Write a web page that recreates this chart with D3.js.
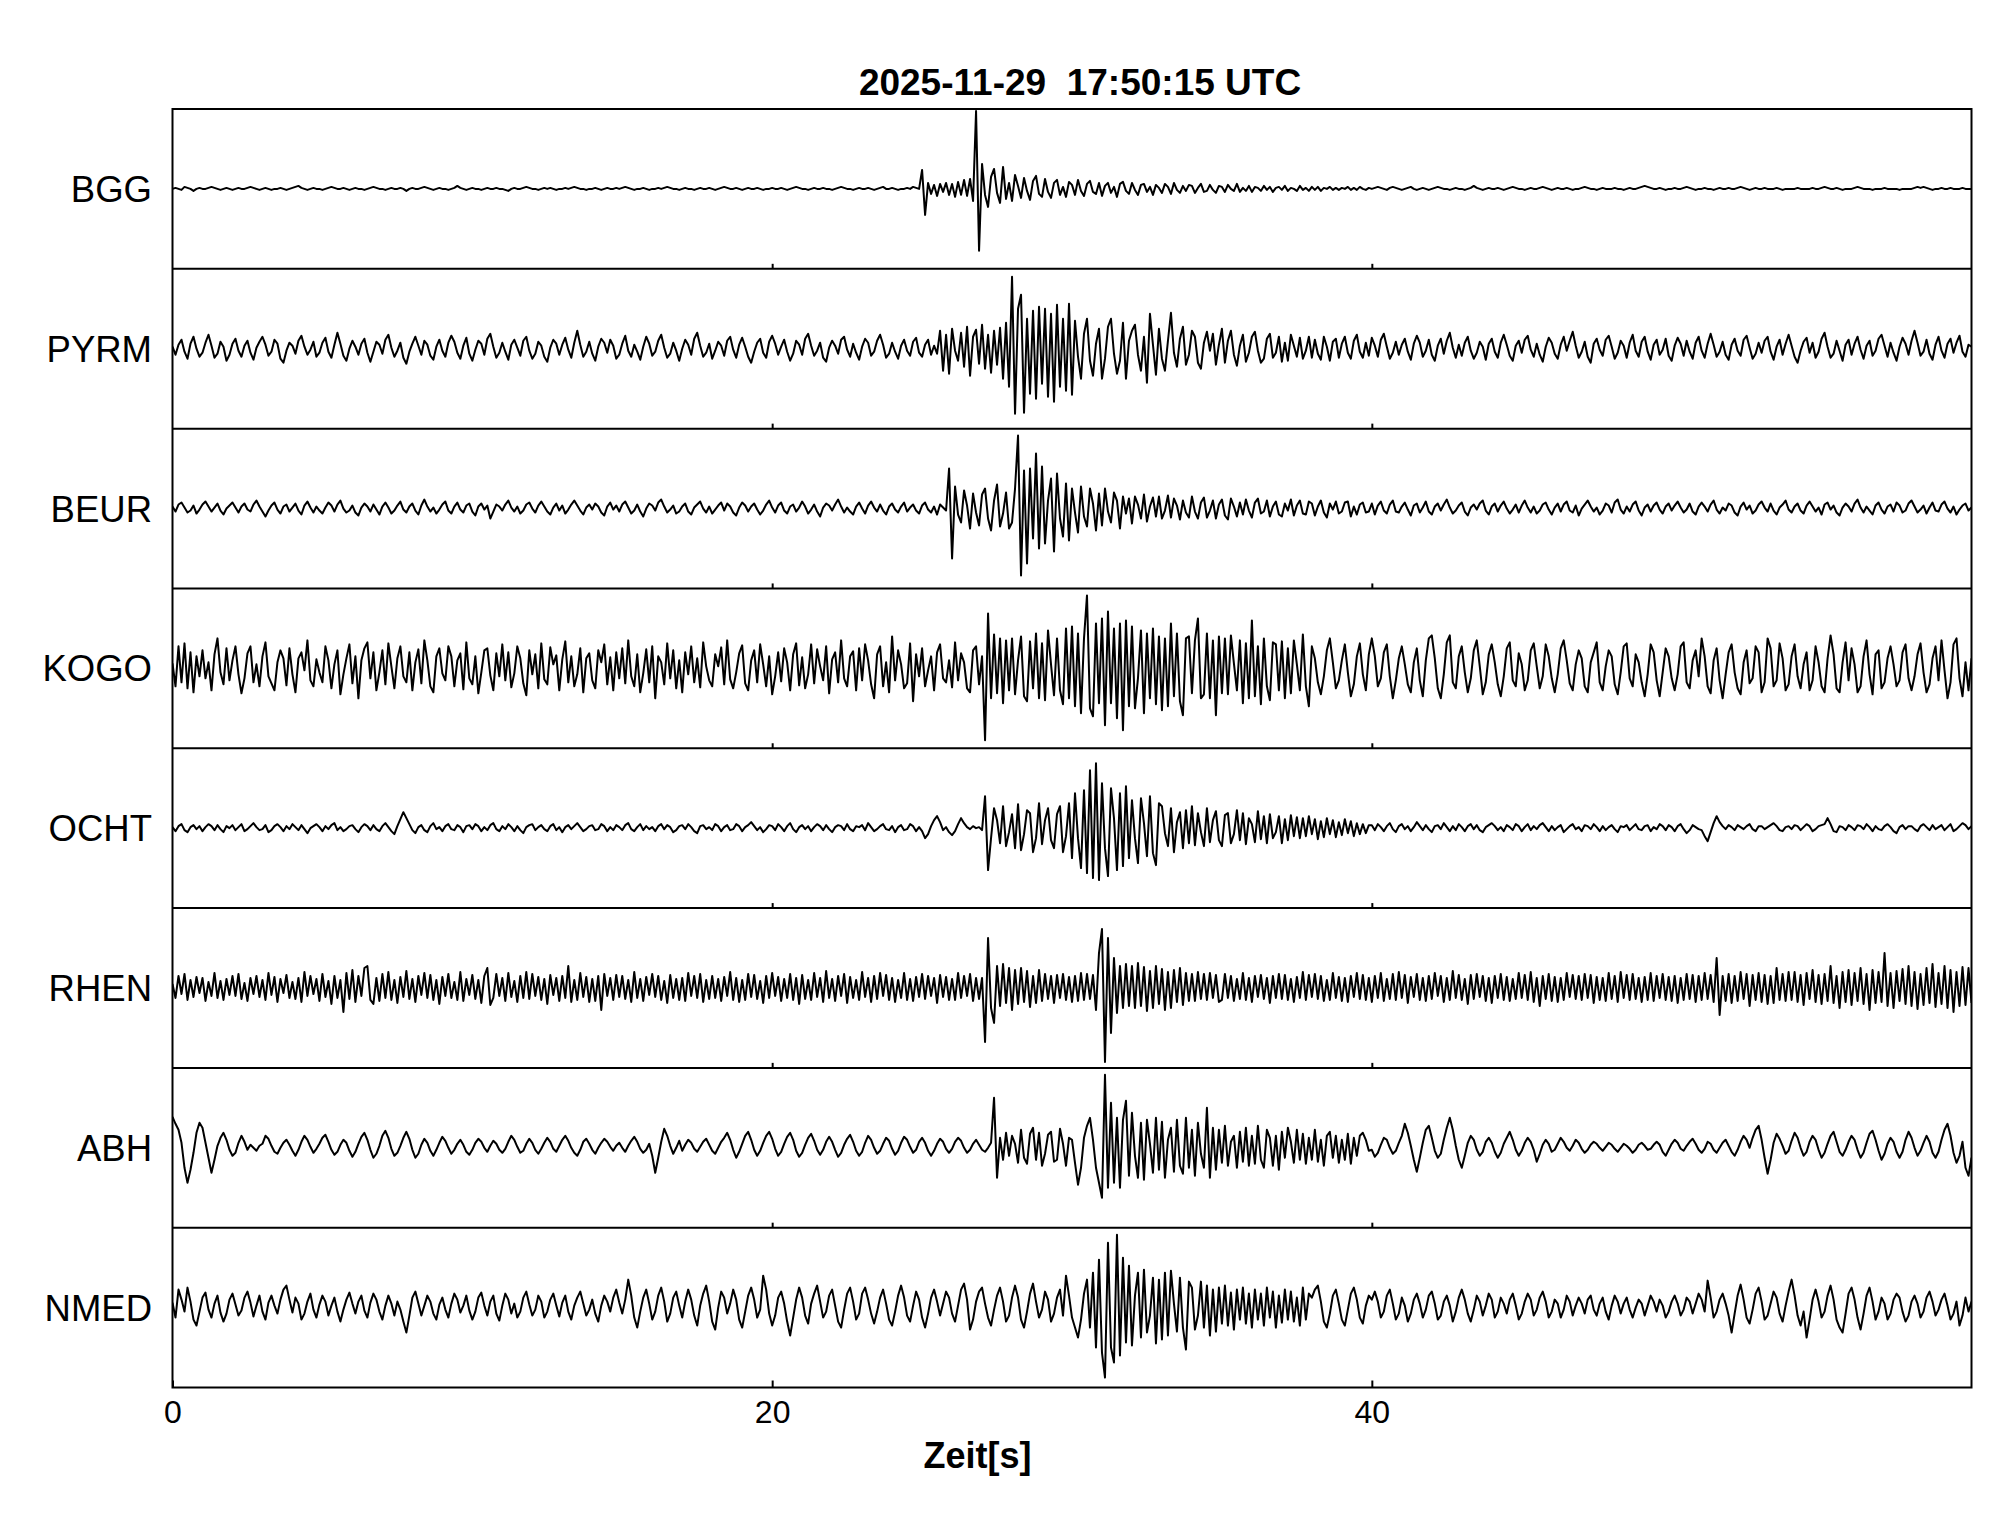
<!DOCTYPE html>
<html><head><meta charset="utf-8">
<script src="https://cdn.jsdelivr.net/npm/d3@7"></script>
<style>html,body{margin:0;padding:0;background:#fff;} svg{display:block;}</style>
</head><body>
<svg id="chart" width="2005" height="1522"></svg>
<script>
const chartTitle = "2025-11-29  17:50:15 UTC";
const xLabel = "Zeit[s]";
const stations = ["BGG","PYRM","BEUR","KOGO","OCHT","RHEN","ABH","NMED"];
const xTicks = [0,20,40];
const dt = 0.1; // seconds between samples, each row below = 1 s

const BGG = [
0,1,0,-1,2,1,0,-2,0,1,
0,0,1,2,1,0,-1,0,1,0,
-1,0,1,0,0,1,2,1,0,-1,
0,1,0,-1,0,0,1,0,-1,0,
1,2,3,1,0,-1,0,1,0,0,
-1,0,1,2,1,0,0,1,0,-1,
0,1,0,0,-1,0,1,2,1,0,
0,-1,0,1,0,0,1,0,-2,0,
1,0,0,1,2,1,0,-1,0,1,
0,0,-1,0,1,3,1,0,-1,0,
1,0,0,-1,0,1,0,0,1,0,
0,-1,-2,0,1,0,0,1,2,1,
0,0,-1,0,1,0,1,0,-1,0,
0,1,0,1,2,1,0,0,-1,0,
0,1,0,-1,0,1,0,0,1,0,
1,2,1,0,-1,0,0,1,0,-1,
0,0,1,0,1,2,1,0,0,-1,
0,1,0,0,-1,0,1,0,0,1,
0,-1,0,1,2,1,0,0,1,0,
-1,0,1,0,0,1,0,-1,0,0,
1,0,0,1,0,-1,0,1,2,1,
0,0,-1,0,1,0,0,1,0,0,
-1,0,1,2,1,0,0,-1,0,1,
0,0,1,0,-1,0,1,2,0,0,
1,0,-1,0,0,1,0,2,1,0,
19,-26,6,-5,4,-7,5,-3,6,-6,
5,-8,7,-6,9,-7,10,-12,78,-62,
25,-6,-18,12,20,-4,-14,22,-10,6,
-12,14,3,-9,11,-2,-11,8,13,-5,
-8,10,-3,-9,6,9,-6,2,-8,7,
4,-6,9,-2,-7,5,8,-3,-5,6,
-7,3,6,-4,2,-8,5,7,-2,-5,
6,-1,-6,4,5,-3,2,-6,4,1,
-4,5,2,-5,6,-1,-4,3,-2,4,
3,-4,1,5,-3,-2,4,-1,-4,3,
2,-3,4,0,-2,5,-3,1,-2,3,
-3,2,1,-2,3,-1,2,-3,1,2,
-1,3,-2,1,0,-2,3,-1,1,-2,
2,-1,2,-2,1,0,2,-1,1,-1,
1,0,2,-1,1,-1,2,0,-1,1,
0,1,2,1,0,-1,1,2,1,0,
-1,0,1,2,0,-1,0,1,0,-1,
0,1,2,1,0,0,-1,0,1,0,
0,-1,0,1,3,1,0,-1,0,1,
0,0,1,0,-1,0,1,2,1,0,
0,-1,0,1,0,0,1,2,1,0,
-1,0,1,0,0,1,0,-1,0,0,
1,2,1,0,0,-1,0,1,0,0,
0,1,0,0,-1,0,1,0,0,1,
2,3,2,1,0,0,1,0,-1,0,
0,1,0,0,1,2,1,0,-1,0,
0,1,0,0,-1,0,1,0,0,1,
0,0,1,2,1,0,-1,0,1,0,
0,1,0,0,0,1,0,-1,0,0,
0,0,1,0,0,0,0,1,0,0,
1,2,1,0,0,1,0,-1,0,0,
0,1,2,1,0,0,0,-1,0,0,
0,1,0,0,0,0,-1,0,0,0,
0,1,2,1,2,1,0,-1,0,0,
1,0,0,1,0,0,0,1,0,0,
0];

const PYRM = [
2,-6,4,9,-3,-10,5,12,0,-8,
-4,6,14,3,-9,-5,7,2,-12,-6,
5,10,-2,-8,3,8,-4,-11,1,7,
12,4,-7,-3,9,5,-10,-14,-2,6,
3,-5,8,13,2,-6,-1,7,-8,-4,
6,11,-3,-9,4,16,5,-7,-12,0,
8,2,-6,5,10,-4,-13,-3,7,4,
-5,9,14,1,-8,-2,6,-9,-15,-3,
5,12,3,-6,8,4,-7,-11,2,9,
-2,-8,6,13,7,-4,-10,3,11,-5,
-12,-1,8,5,-6,10,15,2,-9,-4,
6,-3,-11,4,9,1,-7,8,12,-2,
-10,-5,7,3,-8,-13,1,9,5,-6,
4,11,-1,-9,6,18,4,-8,-3,7,
-5,-12,2,10,6,-4,9,3,-10,-6,
5,13,-2,-8,4,-3,-11,2,12,5,
-7,-3,8,14,1,-9,-5,6,-2,-12,
0,9,4,-6,10,16,3,-8,-4,5,
-10,-2,7,3,-7,8,12,-1,-9,4,
11,2,-8,-14,-3,6,10,-4,-9,7,
13,5,-6,2,9,-3,-12,-5,8,4,
-6,10,15,3,-7,-2,6,-9,-13,1,
8,3,-5,9,12,-1,-8,5,-4,-11,
2,10,6,-7,-3,8,14,4,-9,-5,
6,-3,-10,3,9,-2,-7,7,11,-4,
-8,4,9,-6,3,-5,18,-22,14,-25,
20,-2,-12,16,-18,22,-27,12,19,-15,
24,-20,14,-24,18,-16,21,-30,26,-38,
72,-65,40,54,-64,30,-45,38,-50,42,
-35,40,-48,35,-53,44,-38,30,-42,45,
-46,28,-8,-30,15,30,-12,-27,5,20,
-30,-10,22,30,-5,-25,-12,26,-30,8,
18,24,-6,-22,12,-34,35,4,-26,20,
-10,-22,8,36,-4,-18,10,22,-16,-6,
18,12,-14,-20,6,17,-2,15,-16,4,
20,-14,8,18,-6,-17,3,14,-13,-4,
12,17,-2,-14,-10,10,15,-9,-4,12,
-13,6,-12,14,3,-8,11,-10,-2,12,
-9,9,-5,-11,12,2,-12,7,10,-9,
5,12,-4,-10,8,14,-3,-9,6,-7,
11,3,-8,9,15,2,-10,-4,7,-6,
4,10,-3,-11,5,13,6,-8,-2,9,
-6,-12,3,10,-5,8,16,1,-9,4,
-7,6,12,-2,-10,-4,7,2,-11,5,
10,-3,-9,6,14,4,-7,-12,3,8,
-4,9,13,-1,-8,5,-6,-13,2,11,
6,-5,-10,4,12,-2,8,17,3,-9,
-3,7,-8,-14,5,10,-1,-7,9,13,
2,-10,-4,8,3,-9,6,14,-2,-8,
7,12,-3,-11,4,9,-6,-1,10,-7,
-12,3,11,5,-7,8,-3,-10,6,12,
-2,-9,5,15,4,-8,-3,7,-6,-11,
4,10,-2,-7,9,13,1,-10,-5,6,
-4,8,12,-3,-11,2,9,-6,5,14,
3,-8,-14,-2,7,11,-4,6,-9,-3,
10,16,2,-9,-5,8,-2,-12,4,9,
-6,5,12,-1,-10,3,8,-7,-2,10,
14,3,-8,6,-4,-12,2,11,5,-6,
8,18,6,-7,-3,9,-5,-11,4,12,
-2,-9,5,10,-4,6,13,-3,-8,4,
2];

const BEUR = [
2,-3,4,6,1,-4,-2,3,-5,-1,
4,7,2,-3,1,5,-2,-6,0,3,
6,1,-4,2,5,-1,-3,4,8,2,
-3,-8,-2,3,6,-1,-5,2,4,-3,
1,5,-2,-6,3,7,1,-4,2,-2,
-5,1,6,3,-3,4,8,0,-4,-2,
3,-4,-7,1,5,2,-3,4,-1,-6,
2,6,1,-5,-2,3,7,-1,-4,2,
5,-2,-6,3,9,2,-3,1,-5,-1,
4,7,-2,-5,2,6,-1,-4,3,5,
-3,-7,2,5,-1,3,-10,-3,4,2,
-2,4,8,1,-3,2,-5,-2,4,6,
0,-4,3,7,2,-3,-6,1,5,-2,
3,-5,-1,4,8,3,-2,-6,1,4,
-1,5,2,-4,-7,2,6,-1,3,-3,
4,7,1,-5,-2,4,-3,-8,0,5,
3,-2,6,9,2,-4,-1,3,-5,-3,
2,5,-3,-6,1,4,7,0,-4,2,
-5,-1,3,6,-2,5,2,-4,-7,1,
6,3,-3,2,5,-1,-6,-2,4,8,
1,-4,3,6,-2,-5,2,4,-3,1,
7,2,-5,-1,4,-3,-8,1,5,3,
-2,4,9,2,-4,1,-3,-6,2,6,
0,-5,3,7,1,-3,4,-2,-6,2,
5,-1,-4,2,6,-3,1,4,-2,-5,
3,6,-1,-4,2,-6,4,1,-2,40,
-50,22,-6,-14,18,3,-20,15,-4,-17,
14,20,-10,-22,8,24,-18,-5,16,-20,
-14,20,73,-67,38,-55,40,-30,55,-40,
42,-35,8,30,-43,35,-10,-28,25,-32,
20,-4,-24,22,-8,-18,20,5,-22,15,
-17,20,-3,-14,16,8,-20,12,-5,10,
-15,12,4,-10,14,-13,2,11,-8,12,
-10,-2,13,-9,10,3,-11,8,-4,-9,
12,-3,-10,6,11,-9,-2,8,-10,4,
9,-7,-11,10,2,-8,6,-6,9,-2,
-9,6,10,-5,-3,8,-8,2,7,-6,
-8,5,-2,9,-7,3,8,-5,-6,7,
5,-7,2,8,-4,-9,5,-1,7,-5,
-3,6,7,-8,2,-6,4,6,-4,-3,
5,-6,3,7,-2,-5,4,8,-3,-4,
2,6,-1,-7,3,5,-4,1,7,-3,
-6,2,5,-2,4,9,1,-5,-2,3,
6,-3,-7,1,4,-1,5,8,-2,-6,
2,5,-3,3,7,0,-5,-1,4,-4,
3,8,1,-4,2,-5,-2,4,6,-1,
-6,1,5,-3,4,7,-2,-4,3,-7,
0,4,8,2,-3,1,-6,-2,5,3,
-4,6,9,-1,-5,2,-3,4,7,-2,
-7,1,4,-3,3,6,-1,-5,2,5,
-2,3,7,1,-4,-1,5,-3,-6,2,
6,2,-3,4,8,-1,-5,1,-2,5,
3,-4,-7,2,6,-1,3,-5,-2,4,
7,1,-3,5,-2,-6,1,4,8,-1,
-4,2,5,-2,-5,3,7,2,-3,1,
-6,4,6,-1,3,-4,-7,1,5,2,
-3,5,9,1,-4,2,-2,-6,3,6,
-1,-5,2,4,-3,6,3,-4,-2,5,
8,2,-4,-1,3,-5,1,6,-2,-3,
4,7,0,-4,2,-6,-1,3,5,-2,
1];

const KOGO = [
5,-18,22,-14,25,-20,16,-24,12,-8,
18,-10,6,-22,14,30,-4,-16,20,-12,
8,22,-6,-25,-10,15,22,-14,4,-18,
12,26,-8,-15,-22,6,18,10,-17,20,
-6,-24,10,16,-2,28,-12,-18,9,-4,
-14,22,8,-20,4,18,-26,-6,10,24,
-15,12,-30,8,20,26,-10,16,-22,-4,
18,-16,25,2,-20,10,22,-8,-14,16,
-22,6,19,-15,28,8,-18,-24,12,20,
-5,-12,22,12,-18,8,15,-21,26,-10,
-16,12,-25,-4,18,20,-7,-22,15,-8,
24,-12,16,-19,-5,22,10,-15,-27,18,
-6,14,-20,25,-11,-16,21,4,13,-22,
9,27,-14,12,-18,-6,20,-24,10,15,
-12,-20,18,6,24,-16,11,-22,16,-10,
20,-15,28,-8,-18,14,-24,-5,19,-14,
22,-30,12,6,-16,25,-10,18,-20,8,
-24,16,-6,22,-14,10,-19,26,2,-12,
-18,14,2,21,-16,28,-11,-20,-4,15,
23,-15,-22,8,18,-14,24,4,-18,12,
-26,-8,16,-13,20,6,-22,14,25,-17,
11,-20,-6,24,-15,19,2,-12,22,-25,
9,16,-14,28,-10,-18,12,17,-22,20,
-12,24,8,-16,-30,14,22,-18,6,-24,
32,-12,18,4,-20,-15,25,-33,14,-8,
20,-18,-2,12,-22,16,24,-10,-14,8,
-19,26,-12,15,6,-20,-24,18,22,-16,
12,-72,55,-30,34,-25,30,-35,28,-22,
30,-26,8,32,-28,-33,27,-20,35,-30,
25,-32,38,4,-27,30,-22,-36,40,-30,
42,-38,35,-45,30,73,-40,-48,45,-35,
50,-57,57,-35,40,-50,45,-62,48,-38,
42,-40,-10,38,-45,35,-30,40,-36,32,
-42,30,-38,45,-28,35,-33,-47,30,32,
-25,28,50,-30,-26,35,-30,28,-47,32,
-25,30,-26,33,5,-22,28,-35,25,-30,
48,-28,22,-36,30,-18,-32,26,24,-22,
27,-30,20,-25,28,4,-22,34,-18,-38,
22,10,-14,-26,-8,18,30,6,-20,-12,
8,24,-4,-28,-16,12,25,-6,-22,14,
30,12,-18,-10,16,24,-8,-30,-12,10,
22,4,-16,-24,6,20,-12,-28,8,30,
33,10,-20,-30,-6,26,33,-14,-20,12,
22,-4,-24,-10,18,28,2,-26,-14,14,
24,6,-16,-28,-8,20,26,-12,-18,15,
4,-22,-12,18,25,2,-20,-8,24,12,
-10,-24,-6,20,28,8,-15,-22,4,18,
10,-18,-24,6,16,26,-14,-22,2,18,
12,-16,-26,-4,22,25,-10,-18,14,6,
-14,-28,-6,24,16,-12,-28,-4,20,12,
-10,-22,-6,22,26,-14,-20,8,18,-8,
30,12,-18,-25,8,20,-12,-30,-6,16,
24,-4,-20,-26,6,18,-15,-10,22,16,
-24,-14,30,20,-18,-12,25,10,-22,-16,
12,24,-8,-20,4,16,-22,-12,22,6,
-18,-24,10,33,14,-20,-24,6,26,-12,
20,4,-24,-18,12,28,-6,-26,14,18,
-20,-14,10,22,4,-18,-12,16,24,-10,
-22,-8,14,25,-4,-24,-16,10,22,-12,
28,-2,-30,-14,24,30,-10,-28,6,-22,
10];

const OCHT = [
1,-3,2,4,-2,-4,1,3,-1,2,
-3,1,4,2,-2,3,-1,-4,2,0,
3,-2,1,4,-3,-1,2,5,1,-2,
-1,3,-4,-2,2,4,1,-3,2,-1,
4,1,-2,3,-1,-5,0,2,4,1,
-3,2,-1,3,5,-2,1,-3,-1,2,
3,-1,-4,1,4,2,-2,3,-1,-3,
2,5,1,-3,-6,2,9,16,10,4,
-2,-5,1,3,-2,-4,2,5,-1,1,
-3,2,4,-1,-2,3,1,-4,2,3,
-1,4,2,-3,1,-2,3,5,-1,-3,
2,-1,4,1,-3,2,-2,-5,1,3,
4,-2,1,3,-1,-3,2,4,-2,1,
-4,1,3,-1,2,5,1,-3,-1,2,
3,-2,-1,4,2,-3,1,-2,3,1,
-2,3,5,-1,-3,1,4,-2,2,-1,
1,-3,2,4,-1,3,1,-4,-2,2,
3,-1,4,1,-3,-5,2,3,-1,1,
-2,4,2,-3,1,3,-2,-1,4,2,
-3,1,3,6,2,-2,1,-4,-1,3,
2,-2,4,1,-3,2,5,-1,-4,1,
3,-1,2,-3,1,4,2,-2,3,-1,
-4,1,3,2,-2,4,-1,-3,2,1,
3,-2,5,1,-3,-1,2,4,-1,-2,
2,-4,1,3,-2,-1,4,2,-3,1,
-3,-10,-6,2,8,12,6,-2,1,-4,
-7,-3,4,10,5,1,-1,2,0,1,
-2,32,-42,-10,20,8,-15,22,-18,-4,
14,-20,24,-22,-6,18,15,-24,-10,25,
-16,8,20,-12,-20,14,22,-24,-8,25,
-30,35,-10,-40,38,-45,58,-50,65,-52,
45,-20,-48,40,10,-42,35,-38,42,-30,
28,-10,-35,30,5,-28,32,-25,-37,25,
22,-5,-18,20,-24,6,16,-20,18,-15,
22,-17,15,-4,-18,20,-14,8,17,-12,
-18,13,15,-15,-6,18,-12,15,-16,10,
4,-14,17,-11,12,-15,14,-10,-4,12,
-15,9,-12,13,-8,11,-10,10,-8,12,
-6,9,-11,7,-9,10,-6,8,-9,6,
-7,9,-5,7,-8,5,-6,4,-5,3,
3,-2,4,1,-3,2,5,-1,-4,2,
4,-1,2,-3,1,6,2,-2,3,-1,
-4,2,3,-1,5,1,-3,2,-2,4,
1,-3,2,4,-1,3,-2,-4,1,3,
5,2,-2,1,-3,3,1,-2,4,2,
-3,1,4,-2,2,-1,3,5,1,-3,
2,-2,1,3,-4,-1,2,4,-1,1,
-3,3,2,-1,4,1,-3,2,-2,1,
3,-1,-4,2,1,3,-2,1,4,-1,
-2,2,3,-3,1,-1,4,2,-2,3,
1,-3,2,4,-1,-5,-2,3,1,-1,
-2,-8,-13,-4,5,12,6,2,-1,3,
1,-2,3,1,-1,2,4,-1,-3,2,
2,-1,1,3,5,2,-2,-3,1,2,
-1,3,2,-2,1,4,2,-3,-1,2,
3,4,10,4,-3,-4,2,1,-2,3,
1,-2,3,2,-1,4,1,-3,2,-1,
-2,2,4,1,-3,-5,1,3,-1,2,
2,-1,-3,2,4,1,-2,3,-1,1,
3,-2,1,4,-3,-1,2,5,3,-1,
2];

const RHEN = [
4,-10,12,-6,14,-12,8,-9,11,-5,
10,-13,6,-8,15,-10,7,-12,9,-7,
12,-8,14,-11,5,-13,10,-6,12,-9,
8,-12,15,-7,11,-14,9,-5,13,-10,
6,-11,10,-14,16,-8,12,-6,9,-13,
14,-9,7,-16,12,-10,8,-24,15,-11,
18,-14,12,-8,20,22,-12,-16,10,-13,
14,-10,16,-12,8,-15,11,-9,17,-11,
9,-14,12,-7,15,-10,13,-12,8,-16,
11,-8,14,-10,6,-12,16,-13,9,-7,
13,-11,8,-15,12,20,-17,-10,14,-8,
10,-13,15,-9,7,-14,12,-10,16,-11,
14,-8,11,-12,9,-16,13,-7,10,-13,
12,-10,22,-14,8,-12,15,-9,11,-14,
9,-13,12,-22,14,-8,10,-12,13,-9,
12,-11,8,-14,16,-10,9,-13,11,-7,
14,-9,12,-12,7,-15,13,-10,9,-12,
10,-13,15,-8,12,-10,14,-14,8,-11,
12,-10,9,-13,11,-8,16,-12,10,-14,
8,-12,14,-9,13,-11,7,-15,12,-10,
15,-8,11,-13,9,-10,14,-12,10,-16,
13,-11,8,-12,15,-9,10,-14,17,-10,
9,-13,12,-8,14,-15,11,-10,8,-12,
16,-9,10,-14,12,-11,15,-8,13,-12,
10,-14,8,-10,15,-12,9,-13,11,-9,
14,-11,12,-8,10,-15,13,-9,11,-12,
9,-12,15,-10,12,-8,14,-13,10,-11,
10,-54,50,-20,-35,22,-18,24,-15,20,
-22,18,-16,20,-14,17,-19,12,-15,18,
-13,14,-11,12,-15,13,-10,14,-12,11,
-14,12,-13,15,-12,14,-11,13,-22,35,
59,-74,50,-45,30,-25,22,-20,24,-18,
22,-20,25,-18,21,-23,17,-20,22,-16,
19,-22,16,-20,18,-14,20,-17,15,-13,
14,-13,16,-11,14,-12,15,-10,13,-14,
-12,14,-10,12,-13,9,-11,15,-12,10,
-14,12,-9,13,-11,10,-15,12,-10,14,
-11,13,-12,9,-14,11,-10,16,-12,13,
-9,14,-11,12,-13,8,-12,15,-10,11,
-13,10,-14,12,-9,15,-11,13,-12,10,
-14,12,-10,15,-13,9,-11,14,-12,16,
-10,13,-15,11,-9,14,-12,10,-13,12,
-11,15,-8,12,-14,10,-12,17,-10,13,
-12,9,-16,13,-11,14,-9,12,-13,10,
-15,12,-10,14,-12,11,-13,9,-11,15,
-10,13,-12,16,-14,10,-18,12,-11,14,
-13,11,-14,10,-12,15,-9,13,-11,12,
-12,14,-10,13,-15,11,-12,10,-13,15,
-11,12,-14,16,-10,13,-12,14,-11,10,
-14,11,-12,15,-13,12,-10,14,-12,11,
-13,12,-15,10,-12,14,-11,13,-14,12,
-12,15,-11,13,-14,30,-27,12,-13,14,
-15,12,-13,16,-11,14,-18,13,-12,15,
-14,13,-16,12,-15,20,-12,14,-13,16,
-12,16,-14,13,-17,15,-11,18,-14,13,
-16,14,-13,22,-15,12,-20,16,-14,18,
-17,15,-13,20,-16,14,-22,18,-15,16,
-14,35,-18,15,-20,17,-13,19,-16,22,
-18,16,-21,14,-17,20,-15,24,-19,15,
-16,22,-20,18,-24,16,-18,21,-17,20,
-15];

const ABH = [
31,24,18,5,-20,-35,-22,-5,15,25,
20,5,-10,-25,-12,2,10,15,8,-2,
-8,-5,5,12,6,-2,3,0,-3,2,
4,12,9,2,-4,-6,0,5,8,3,
-3,-8,-2,6,12,8,1,-5,-1,4,
10,13,6,-2,-7,-4,3,8,5,-3,
-9,-4,4,11,15,8,-2,-10,-6,2,
12,17,10,-1,-8,-5,2,10,16,9,
-2,-10,-6,3,9,5,-3,-8,-2,5,
11,7,0,-6,-2,4,8,3,-4,-7,
-2,5,9,6,0,-4,2,7,4,-2,
-5,-1,6,12,8,1,-5,-3,4,9,
5,-2,-6,-1,5,10,6,-1,-4,2,
8,12,7,0,-5,-8,-2,6,9,4,
-2,-6,0,5,9,6,1,-3,2,5,
0,-4,2,7,11,6,-1,-5,-2,4,
-8,-25,-10,6,19,12,2,-6,0,7,
-3,3,8,5,-1,-4,1,6,9,3,
-3,-6,0,6,10,15,8,-2,-10,-4,
4,12,16,8,-2,-8,-3,5,12,16,
9,-1,-8,-4,4,11,15,8,-3,-9,
-5,3,10,14,7,-2,-7,-2,6,11,
6,-2,-9,-5,3,9,13,6,-3,-8,
-4,5,12,8,0,-6,-3,4,10,7,
-1,-7,-3,5,11,8,1,-5,-2,6,
10,5,-3,-8,-3,4,9,6,-1,-5,
-1,6,10,7,0,-5,-2,4,8,3,
-2,-4,0,5,50,-30,10,-12,15,-8,
12,4,-15,18,-10,-16,14,20,-12,15,
-18,-6,13,16,-14,-12,19,4,-18,10,
8,-15,-37,-20,10,22,30,8,-20,-35,
-50,73,-40,45,-35,30,-40,28,47,-28,
35,-8,-30,25,-32,28,4,-25,30,-22,
26,-30,8,20,-24,28,-18,-26,30,-20,
18,-28,25,-6,-20,40,-30,20,-22,18,
-15,22,-18,6,12,-20,16,-14,20,-18,
12,-16,22,-12,-20,18,10,-18,12,-22,
16,-10,20,6,-15,18,-12,14,-16,10,
-12,18,-14,8,-18,12,16,-10,12,-15,
8,-12,14,-16,10,-8,12,15,8,-3,
-2,-9,-5,3,10,8,0,-6,-3,5,
12,24,15,2,-12,-24,-10,5,18,22,
10,-3,-10,-6,8,20,30,18,2,-12,
-20,-8,5,12,8,-2,-8,-4,6,10,
5,-4,-10,-5,4,10,16,8,-2,-8,
-3,5,10,6,-2,-14,-6,3,8,4,
-4,-2,4,10,6,0,-3,2,8,5,
-1,-5,-2,3,6,4,0,-3,1,5,
3,-1,-4,0,4,2,-1,-5,-2,3,
5,2,-2,-1,3,6,3,-4,-8,-2,
4,8,5,-1,-3,2,6,9,4,-2,
-5,-1,6,4,-2,-5,0,5,8,2,
-4,-8,-2,6,12,8,0,10,18,22,
8,-10,-26,-12,5,14,9,2,-6,-3,
7,15,10,0,-8,-4,6,12,8,-2,
-10,-5,4,12,16,6,-4,-8,-2,6,
12,8,-2,-10,-5,5,14,17,8,-3,
-12,-6,4,10,6,-4,-10,-4,8,16,
10,0,-8,-3,5,12,6,-5,-10,-4,
8,18,24,12,-5,-15,-8,6,-20,-28,
-10];

const NMED = [
5,-10,18,8,-4,20,6,-12,-18,-4,
10,15,-2,-10,4,12,-5,-14,-6,8,
14,3,-8,-3,10,16,5,-9,2,12,
-4,-12,5,12,2,-6,8,18,22,8,
-5,10,4,-12,-6,6,14,-2,-10,3,
12,6,-8,2,10,-4,-14,-2,8,15,
4,-6,6,12,-3,-10,5,14,8,-4,
-12,2,12,4,-8,6,-2,-14,-25,-8,
10,16,4,-8,2,12,6,-6,-12,3,
10,-2,-10,4,14,8,-5,2,12,-3,
-12,-4,10,15,2,-8,6,12,-6,-13,
2,14,8,-6,4,-10,-4,10,16,3,
-8,-2,12,6,-10,-4,8,14,2,-9,
5,12,-4,-12,2,10,16,4,-8,-2,
8,-6,-14,2,12,6,-4,10,18,5,
-6,8,28,12,-10,-20,-4,10,18,4,
-12,-4,12,20,6,-14,-6,10,16,2,
-10,6,18,8,-8,-18,2,14,22,6,
-14,-22,0,16,10,-6,4,18,8,-12,
-20,-4,12,20,8,-10,-2,32,18,-6,
-18,-8,10,16,4,-14,-28,-10,8,20,
10,-8,-16,4,14,22,6,-10,-4,12,
18,2,-14,-20,-2,14,20,6,-12,-6,
14,20,8,-6,-16,-4,10,18,4,-12,
-18,-4,12,22,10,-8,-14,2,16,8,
-10,-20,-6,10,18,6,-8,4,16,10,
-6,-14,2,18,24,8,-22,-12,6,16,
20,4,-10,-18,-2,12,20,6,-14,-8,
10,22,10,-12,-20,-4,14,24,6,-10,
-2,16,8,-14,-6,10,18,-8,32,12,
-10,-20,-30,-12,14,28,-20,35,-40,48,
-45,-70,65,-40,-55,73,-48,50,-35,42,
-38,12,35,-30,38,-25,-8,30,-36,28,
-32,35,-28,37,4,-24,30,-20,-42,26,
20,-22,-8,26,-20,22,-28,18,-24,20,
-16,22,-18,15,-22,18,-12,20,-16,14,
-20,18,-12,14,-18,20,-10,16,-20,12,
-15,18,-12,16,-14,10,-18,20,-12,14,
10,18,22,6,-14,-20,-6,12,18,4,
-12,-18,-2,14,20,8,-10,-16,2,12,
8,16,6,-10,-4,12,18,4,-12,-6,
10,2,-14,-6,8,14,4,-10,-2,12,
16,4,-12,-8,6,12,2,-14,-4,10,
18,8,-6,-14,-2,12,6,-8,2,14,
8,-10,-4,10,4,-6,8,14,2,-12,
-6,6,14,8,-8,-2,10,16,6,-10,
-4,8,4,-10,-2,12,6,-8,2,10,
4,-6,8,12,-2,-8,4,10,-4,-12,
2,12,6,-6,4,10,-2,-10,0,8,
4,-8,2,12,6,-4,8,2,-10,-4,
6,12,4,-8,-2,10,6,-6,4,14,
8,-4,27,10,-10,-4,8,14,4,-8,
-25,-6,12,23,8,-10,-16,-2,14,20,
6,-12,-8,4,16,10,-6,-14,2,16,
28,12,-8,-18,-4,-30,-12,8,18,6,
-10,-4,12,22,8,-12,-20,-25,-6,14,
20,8,-10,-22,-6,12,20,6,-12,-4,
10,4,-12,-6,8,14,10,-4,-14,-8,
6,12,4,-10,-4,10,16,6,-8,-2,
8,14,2,-12,-6,6,-18,-8,10,-4,
6];

const traces = [BGG, PYRM, BEUR, KOGO, OCHT, RHEN, ABH, NMED];

// ---------- layout ----------
const plotLeft = 172.5, plotRight = 1971.5, plotTop = 109, plotBottom = 1387.5;
const fontFam = "'Liberation Sans', Arial, Helvetica, sans-serif";
const svg = d3.select("#chart");

const x = d3.scaleLinear().domain([0, 60]).range([plotLeft, plotRight]);
const band = d3.scaleBand().domain(stations).range([plotTop, plotBottom]).padding(0);
const amp = d3.scaleLinear().domain([-80, 80]).range([band.bandwidth(), 0]);

svg.append("defs").append("clipPath").attr("id", "plotclip")
  .append("rect").attr("x", plotLeft).attr("y", plotTop)
  .attr("width", plotRight - plotLeft).attr("height", plotBottom - plotTop);

const traceLine = d3.line()
  .x((d, j) => x(j * dt))
  .y(d => amp(d))
  .curve(d3.curveLinear);

const traceLayer = svg.append("g").attr("clip-path", "url(#plotclip)");

stations.forEach((s, i) => {
  const g = traceLayer.append("g").attr("transform", `translate(0,${band(s)})`);
  g.append("path")
    .datum(traces[i])
    .attr("d", traceLine)
    .attr("fill", "none")
    .attr("stroke", "#000")
    .attr("stroke-width", 2)
    .attr("stroke-linejoin", "round");

  svg.append("text")
    .attr("x", 152)
    .attr("y", band(s) + amp(0) + 13)
    .attr("text-anchor", "end")
    .attr("font-family", fontFam)
    .attr("font-size", 36.5)
    .attr("fill", "#000")
    .text(s);

  if (i < stations.length - 1) {
    const ax = d3.axisBottom(x).tickValues(xTicks.filter(v => v > 0)).tickSize(-5).tickFormat("");
    svg.append("g")
      .attr("transform", `translate(0,${band(s) + band.bandwidth()})`)
      .call(ax)
      .call(a => a.select(".domain").remove())
      .call(a => a.selectAll(".tick line").attr("stroke", "#000").attr("stroke-width", 2));
  }
});

// frame and separators
svg.append("rect")
  .attr("x", plotLeft).attr("y", plotTop)
  .attr("width", plotRight - plotLeft).attr("height", plotBottom - plotTop)
  .attr("fill", "none").attr("stroke", "#000").attr("stroke-width", 2);

svg.append("g").selectAll("line")
  .data(stations.slice(1))
  .join("line")
  .attr("x1", plotLeft).attr("x2", plotRight)
  .attr("y1", d => band(d)).attr("y2", d => band(d))
  .attr("stroke", "#000").attr("stroke-width", 2);

// bottom axis
const xAxis = d3.axisBottom(x).tickValues(xTicks).tickSize(-7).tickPadding(12.5).tickFormat(d3.format("d"));
svg.append("g")
  .attr("transform", `translate(0,${plotBottom})`)
  .call(xAxis)
  .call(a => a.select(".domain").remove())
  .call(a => a.selectAll(".tick line").attr("stroke", "#000").attr("stroke-width", 2))
  .call(a => a.selectAll(".tick text").attr("font-family", fontFam).attr("font-size", 32).attr("fill", "#000"));

// title and axis label
svg.append("text")
  .attr("x", 1080).attr("y", 95)
  .attr("text-anchor", "middle")
  .attr("font-family", fontFam).attr("font-weight", "bold").attr("font-size", 37)
  .attr("fill", "#000")
  .style("white-space", "pre")
  .text(chartTitle);

svg.append("text")
  .attr("x", 977.5).attr("y", 1468)
  .attr("text-anchor", "middle")
  .attr("font-family", fontFam).attr("font-weight", "bold").attr("font-size", 36)
  .attr("fill", "#000")
  .text(xLabel);
</script>
</body></html>
